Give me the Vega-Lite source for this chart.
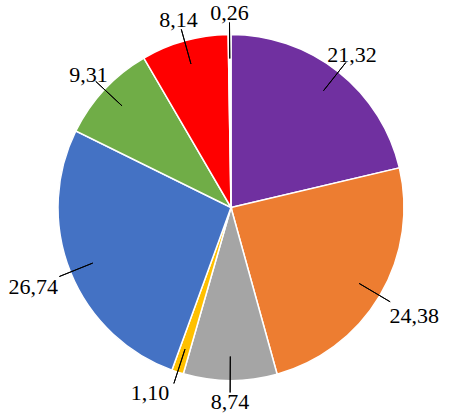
{
  "$schema": "https://vega.github.io/schema/vega-lite/v6.json",
  "width": 450,
  "height": 415,
  "autosize": {"type": "fit", "contains": "padding"},
  "padding": {"left": 12, "right": 0, "top": 0, "bottom": 0},
  "background": "white",
  "view": {"stroke": null},
  "data": {
    "values": [
      {"k": 1, "label": "21,32", "value": 21.32},
      {"k": 2, "label": "24,38", "value": 24.38},
      {"k": 3, "label": "8,74", "value": 8.74},
      {"k": 4, "label": "1,10", "value": 1.10},
      {"k": 5, "label": "26,74", "value": 26.74},
      {"k": 6, "label": "9,31", "value": 9.31},
      {"k": 7, "label": "8,14", "value": 8.14},
      {"k": 8, "label": "0,26", "value": 0.26}
    ]
  },
  "encoding": {
    "theta": {"field": "value", "type": "quantitative", "stack": true},
    "order": {"field": "k", "type": "quantitative"}
  },
  "layer": [
    {
      "mark": {"type": "arc", "outerRadius": 173, "stroke": "white", "strokeWidth": 1.5},
      "encoding": {
        "color": {
          "field": "label",
          "type": "nominal",
          "scale": {
            "domain": ["21,32", "24,38", "8,74", "1,10", "26,74", "9,31", "8,14", "0,26"],
            "range": ["#7030A0", "#ED7D31", "#A5A5A5", "#FFC000", "#4472C4", "#70AD47", "#FF0000", "#FFFFFF"]
          },
          "legend": null
        }
      }
    },
    {
      "mark": {"type": "arc", "innerRadius": 149, "outerRadius": 185, "padAngle": 3, "stroke": "black", "strokeWidth": 1, "fillOpacity": 0},
      "encoding": {"detail": {"field": "label", "type": "nominal"}}
    },
    {
      "mark": {"type": "text", "radius": 195, "font": "Liberation Serif", "fontSize": 22, "color": "black"},
      "encoding": {
        "detail": {"field": "label", "type": "nominal"},
        "text": {
          "condition": {"test": "datum.label != '24,38' && datum.label != '26,74' && datum.label != '1,10'", "field": "label"},
          "value": ""
        }
      }
    },
    {
      "mark": {"type": "text", "radius": 213, "font": "Liberation Serif", "fontSize": 22, "color": "black"},
      "encoding": {
        "detail": {"field": "label", "type": "nominal"},
        "text": {
          "condition": {"test": "datum.label == '24,38' || datum.label == '26,74'", "field": "label"},
          "value": ""
        }
      }
    },
    {
      "mark": {"type": "text", "radius": 201, "dx": -19, "dy": -6, "font": "Liberation Serif", "fontSize": 22, "color": "black"},
      "encoding": {
        "detail": {"field": "label", "type": "nominal"},
        "text": {
          "condition": {"test": "datum.label == '1,10'", "field": "label"},
          "value": ""
        }
      }
    }
  ]
}
